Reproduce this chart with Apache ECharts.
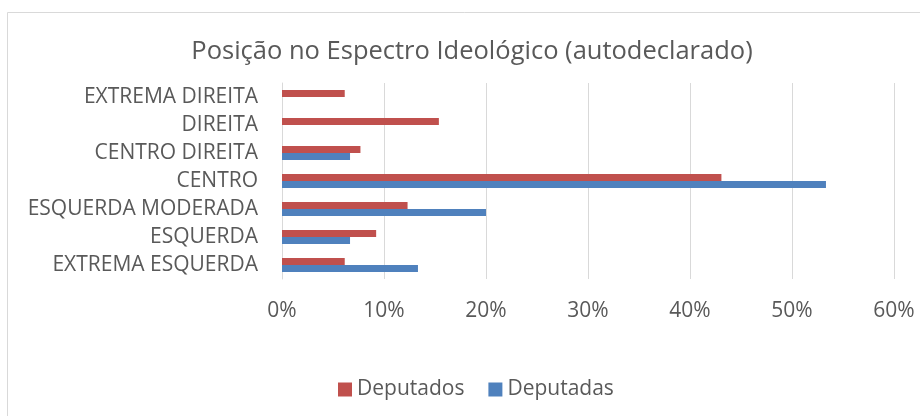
<!DOCTYPE html>
<html>
<head>
    <meta charset="utf-8">
    <title>Posição no Espectro Ideológico</title>
    <script src="https://cdn.jsdelivr.net/npm/echarts@6/dist/echarts.min.js"></script>
    <style>
        html, body { margin: 0; padding: 0; background: #fff; }
    </style>
</head>
<body>
    <div id="main" style="width: 920px;height:416px;"></div>
    <script type="text/javascript">
// categorias de baixo para cima
var categorias = ['EXTREMA ESQUERDA', 'ESQUERDA', 'ESQUERDA MODERADA', 'CENTRO', 'CENTRO DIREITA', 'DIREITA', 'EXTREMA DIREITA'];
// percentuais (%)
var deputados = [6.15, 9.23, 12.31, 43.08, 7.69, 15.38, 6.15];
var deputadas = [13.33, 6.67, 20.0, 53.33, 6.67, 0, 0];

var fonte = 'Open Sans';
var cinza = '#595959';

var myChart = echarts.init(document.getElementById('main'));

var option = {
    backgroundColor: '#fff',
    animation: false,
    title: {
        text: 'Posição no Espectro Ideológico (autodeclarado)',
        left: 467,
        textAlign: 'center',
        top: 34,
        textStyle: {
            fontFamily: fonte,
            fontSize: 25.5,
            fontWeight: 'normal',
            color: cinza
        }
    },
    graphic: [{
        type: 'rect',
        shape: { x: 7.5, y: 12.5, width: 940, height: 440 },
        style: { fill: 'none', stroke: '#d9d9d9', lineWidth: 1 },
        silent: true
    }],
    legend: {
        data: ['Deputados', 'Deputadas'],
        left: 333,
        top: 374,
        itemWidth: 14,
        itemHeight: 14,
        itemGap: 24,
        icon: 'rect',
        textStyle: {
            fontFamily: fonte,
            fontSize: 21,
            color: cinza
        }
    },
    grid: {
        left: 282,
        right: 26,
        top: 83,
        bottom: 137,
        containLabel: false
    },
    xAxis: {
        type: 'value',
        min: 0,
        max: 60,
        interval: 10,
        axisLine: { show: false },
        axisTick: { show: false },
        splitLine: {
            show: true,
            lineStyle: { color: '#d9d9d9', width: 1 }
        },
        axisLabel: {
            formatter: '{value}%',
            margin: 22,
            fontFamily: fonte,
            fontSize: 21,
            color: cinza
        }
    },
    yAxis: {
        type: 'category',
        data: categorias,
        axisLine: {
            show: true,
            lineStyle: { color: '#d9d9d9', width: 1 }
        },
        axisTick: { show: false },
        axisLabel: {
            margin: 24,
            fontFamily: fonte,
            fontSize: 21,
            color: cinza
        }
    },
    series: [{
        name: 'Deputados',
        type: 'bar',
        data: deputados,
        barWidth: 7,
        barGap: '0%',
        itemStyle: { color: '#C0504D' }
    }, {
        name: 'Deputadas',
        type: 'bar',
        data: deputadas,
        barWidth: 7,
        barGap: '0%',
        itemStyle: { color: '#4F81BD' }
    }]
};

myChart.setOption(option);
    </script>
</body>
</html>
